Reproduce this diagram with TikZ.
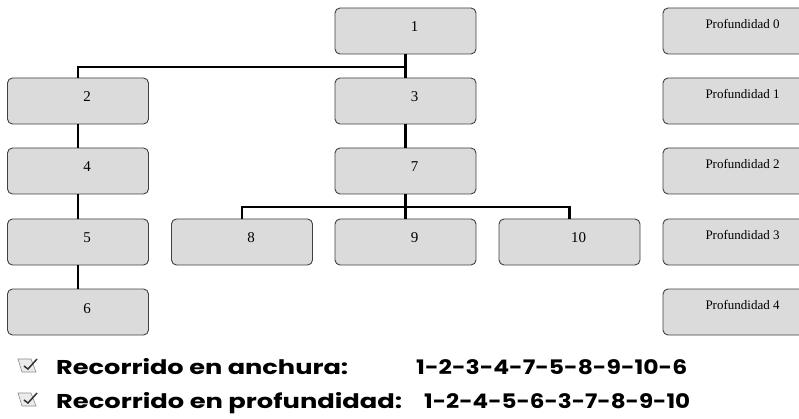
\documentclass[tikz,border=0pt]{standalone}
\usepackage{fontspec}
\setmainfont{Liberation Serif}
\newfontfamily\gothic{Poppins}
\usepackage{tikz}

% texto estirado a un ancho dado
\newcommand{\ancho}[2]{\resizebox{#1}{\height}{#2}}

\begin{document}
\begin{tikzpicture}[x=1pt,y=-1pt,
  caja/.style={draw=black!75,fill=black!14,rounded corners=5pt,line width=0.9pt,
    minimum width=141pt,minimum height=46pt,inner sep=0pt,font=\fontsize{15}{17}\selectfont,
    text height=10pt,text depth=8pt,execute at begin node={\hspace*{18pt}}},
  nivel/.style={caja,font=\fontsize{13}{15}\selectfont,
    text height=9pt,text depth=14pt},
  rama/.style={line width=2.4pt,black},
  lista/.style={anchor=base west,inner sep=0pt,font=\gothic\bfseries\fontsize{20}{22}\selectfont}]
\useasboundingbox (0,0) rectangle (799,419);
% arbol
\node[caja] (n1) at (405.5,31) {1};
\node[caja] (n2) at (78,101) {2};
\node[caja] (n3) at (405.5,101) {3};
\node[caja] (n4) at (78,171) {4};
\node[caja] (n7) at (405.5,171) {7};
\node[caja] (n5) at (78,242) {5};
\node[caja] (n8) at (242,242) {8};
\node[caja] (n9) at (405.5,242) {9};
\node[caja] (n10) at (569.5,242) {10};
\node[caja] (n6) at (78,312) {6};
% niveles
\node[nivel] (p0) at (733.5,31) {Profundidad 0};
\node[nivel] (p1) at (733.5,101) {Profundidad 1};
\node[nivel] (p2) at (733.5,171) {Profundidad 2};
\node[nivel] (p3) at (733.5,242) {Profundidad 3};
\node[nivel] (p4) at (733.5,312) {Profundidad 4};
% ramas
\draw[rama] (n1.south) -- (n3.north);
\draw[rama] (n2.north) |- (405.5,67);
\draw[rama] (n2) -- (n4);
\draw[rama] (n4) -- (n5);
\draw[rama] (n5) -- (n6);
\draw[rama] (n3) -- (n7);
\draw[rama] (n7.south) -- (n9.north);
\draw[rama] (n8.north) |- (405.5,207) -| (n10.north);
% recorridos
\foreach \y in {374,408}{
  \draw[black!45,fill=black!8,line width=0.6pt] (18,\y-15) -- (31,\y-15) -- (36,\y-2) -- (22,\y-2) -- cycle;
  \draw[black!80,line width=1.5pt] (24,\y-8) -- (28,\y-5) -- (37,\y-15);
}
\node[lista] (anch) at (56,374) {\ancho{292pt}{Recorrido en anchura:}};
\node[lista] (anchsec) at (416,374) {\ancho{271pt}{1-2-3-4-7-5-8-9-10-6}};
\node[lista] (prof) at (56,408) {\ancho{346pt}{Recorrido en profundidad:}};
\node[lista] (profsec) at (424,408) {\ancho{266pt}{1-2-4-5-6-3-7-8-9-10}};
\end{tikzpicture}
\end{document}
